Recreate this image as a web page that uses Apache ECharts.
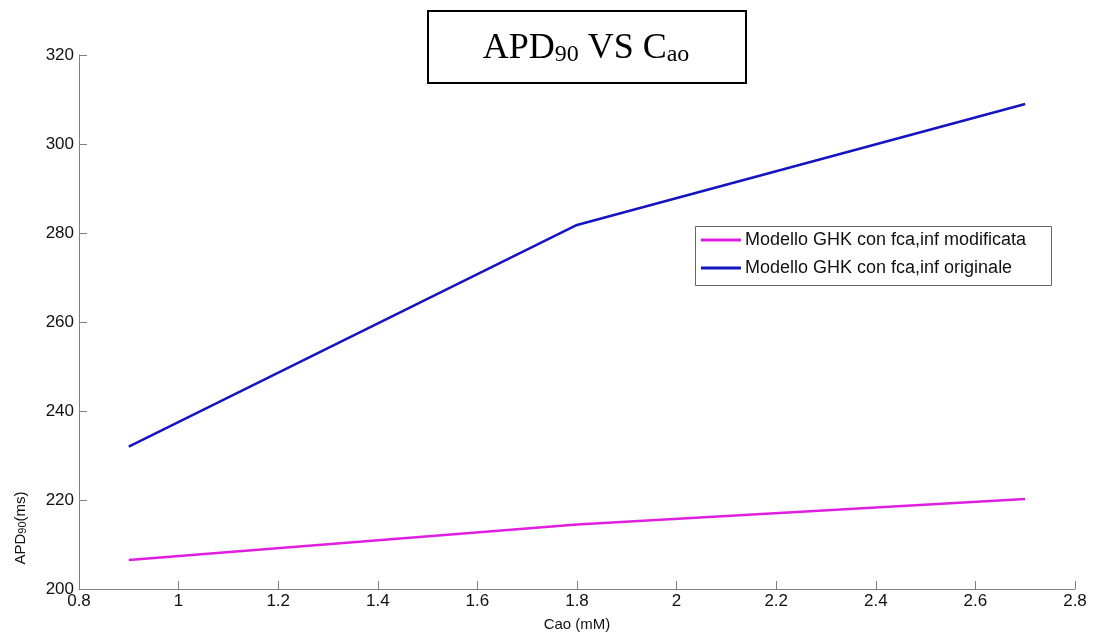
<!DOCTYPE html>
<html>
<head>
<meta charset="utf-8">
<script src="https://cdn.jsdelivr.net/npm/echarts@6/dist/echarts.min.js"></script>
<style>html,body{margin:0;padding:0;background:#fff;}#c{width:1093px;height:637px;}</style>
</head>
<body>
<div id="c"></div>
<script>
const cao = [0.9, 1.8, 2.7];
const apdModificata = [206.5, 214.5, 220.2];
const apdOriginale = [232.0, 281.8, 309.0];
const seriesNames = ['Modello GHK con fca,inf modificata', 'Modello GHK con fca,inf originale'];
const xTicks = {min: 0.8, max: 2.8, interval: 0.2};
const yTicks = {min: 200, max: 320, interval: 20};

const chart = echarts.init(document.getElementById('c'), null, {renderer: 'canvas'});
const axisGrey = '#808080';
const font = 'Liberation Sans, Arial, sans-serif';
chart.setOption({
  animation: false,
  backgroundColor: '#fff',
  grid: {left: 79, right: 18, top: 55, bottom: 46, containLabel: false},
  xAxis: {
    type: 'value', min: xTicks.min, max: xTicks.max, interval: xTicks.interval,
    name: 'Cao (mM)', nameLocation: 'middle', nameGap: 28,
    nameTextStyle: {fontFamily: font, fontSize: 15, color: '#111'},
    axisLine: {show: true, onZero: false, lineStyle: {color: axisGrey, width: 1}},
    axisTick: {show: true, inside: true, length: 8, lineStyle: {color: axisGrey}},
    axisLabel: {fontFamily: font, fontSize: 17, color: '#111', margin: 4,
      formatter: v => String(Math.round(v * 10) / 10)},
    splitLine: {show: false}
  },
  yAxis: {
    type: 'value', min: yTicks.min, max: yTicks.max, interval: yTicks.interval,
    axisLine: {show: true, onZero: false, lineStyle: {color: axisGrey, width: 1}},
    axisTick: {show: true, inside: true, length: 8, lineStyle: {color: axisGrey}},
    axisLabel: {fontFamily: font, fontSize: 17, color: '#111', margin: 5},
    splitLine: {show: false}
  },
  legend: {
    orient: 'vertical', left: 701, top: 231, itemWidth: 40, itemHeight: 3, itemGap: 10,
    padding: 0, icon: 'rect',
    textStyle: {fontFamily: font, fontSize: 18, color: '#111', padding: [0, 0, 0, -1]},
    data: seriesNames
  },
  series: [
    {name: seriesNames[0], type: 'line', data: cao.map((x, i) => [x, apdModificata[i]]),
     symbol: 'none', color: '#e01ee0', lineStyle: {width: 2.5, color: '#e01ee0'}},
    {name: seriesNames[1], type: 'line', data: cao.map((x, i) => [x, apdOriginale[i]]),
     symbol: 'none', color: '#1414c0', lineStyle: {width: 2.5, color: '#1414c0'}}
  ],
  graphic: [
    {type: 'rect', left: 693, top: 224, shape: {width: 356, height: 59},
     style: {fill: 'none', stroke: '#666', lineWidth: 1}, z: 10},
    {type: 'rect', left: 427, top: 10, shape: {width: 318, height: 72},
     style: {fill: '#fff', stroke: '#000', lineWidth: 2}, z: 10},
    {type: 'text', x: 586, y: 47, z: 11,
     style: {
       text: '{n|APD}{s|90}{n| VS C}{s|ao}',
       align: 'center', verticalAlign: 'middle',
       rich: {
         n: {fontFamily: 'Liberation Serif, serif', fontSize: 36, fill: '#000', verticalAlign: 'bottom', lineHeight: 40},
         s: {fontFamily: 'Liberation Serif, serif', fontSize: 24, fill: '#000', verticalAlign: 'bottom', lineHeight: 36}
       }
     }},
    {type: 'text', x: 19, y: 528, rotation: Math.PI / 2, z: 11,
     style: {
       text: '{n|APD}{s|90}{n|(ms)}',
       align: 'center', verticalAlign: 'middle',
       rich: {
         n: {fontFamily: font, fontSize: 15, fill: '#111', verticalAlign: 'bottom', lineHeight: 18},
         s: {fontFamily: font, fontSize: 11, fill: '#111', verticalAlign: 'bottom', lineHeight: 13}
       }
     }}
  ]
});
</script>
</body>
</html>
